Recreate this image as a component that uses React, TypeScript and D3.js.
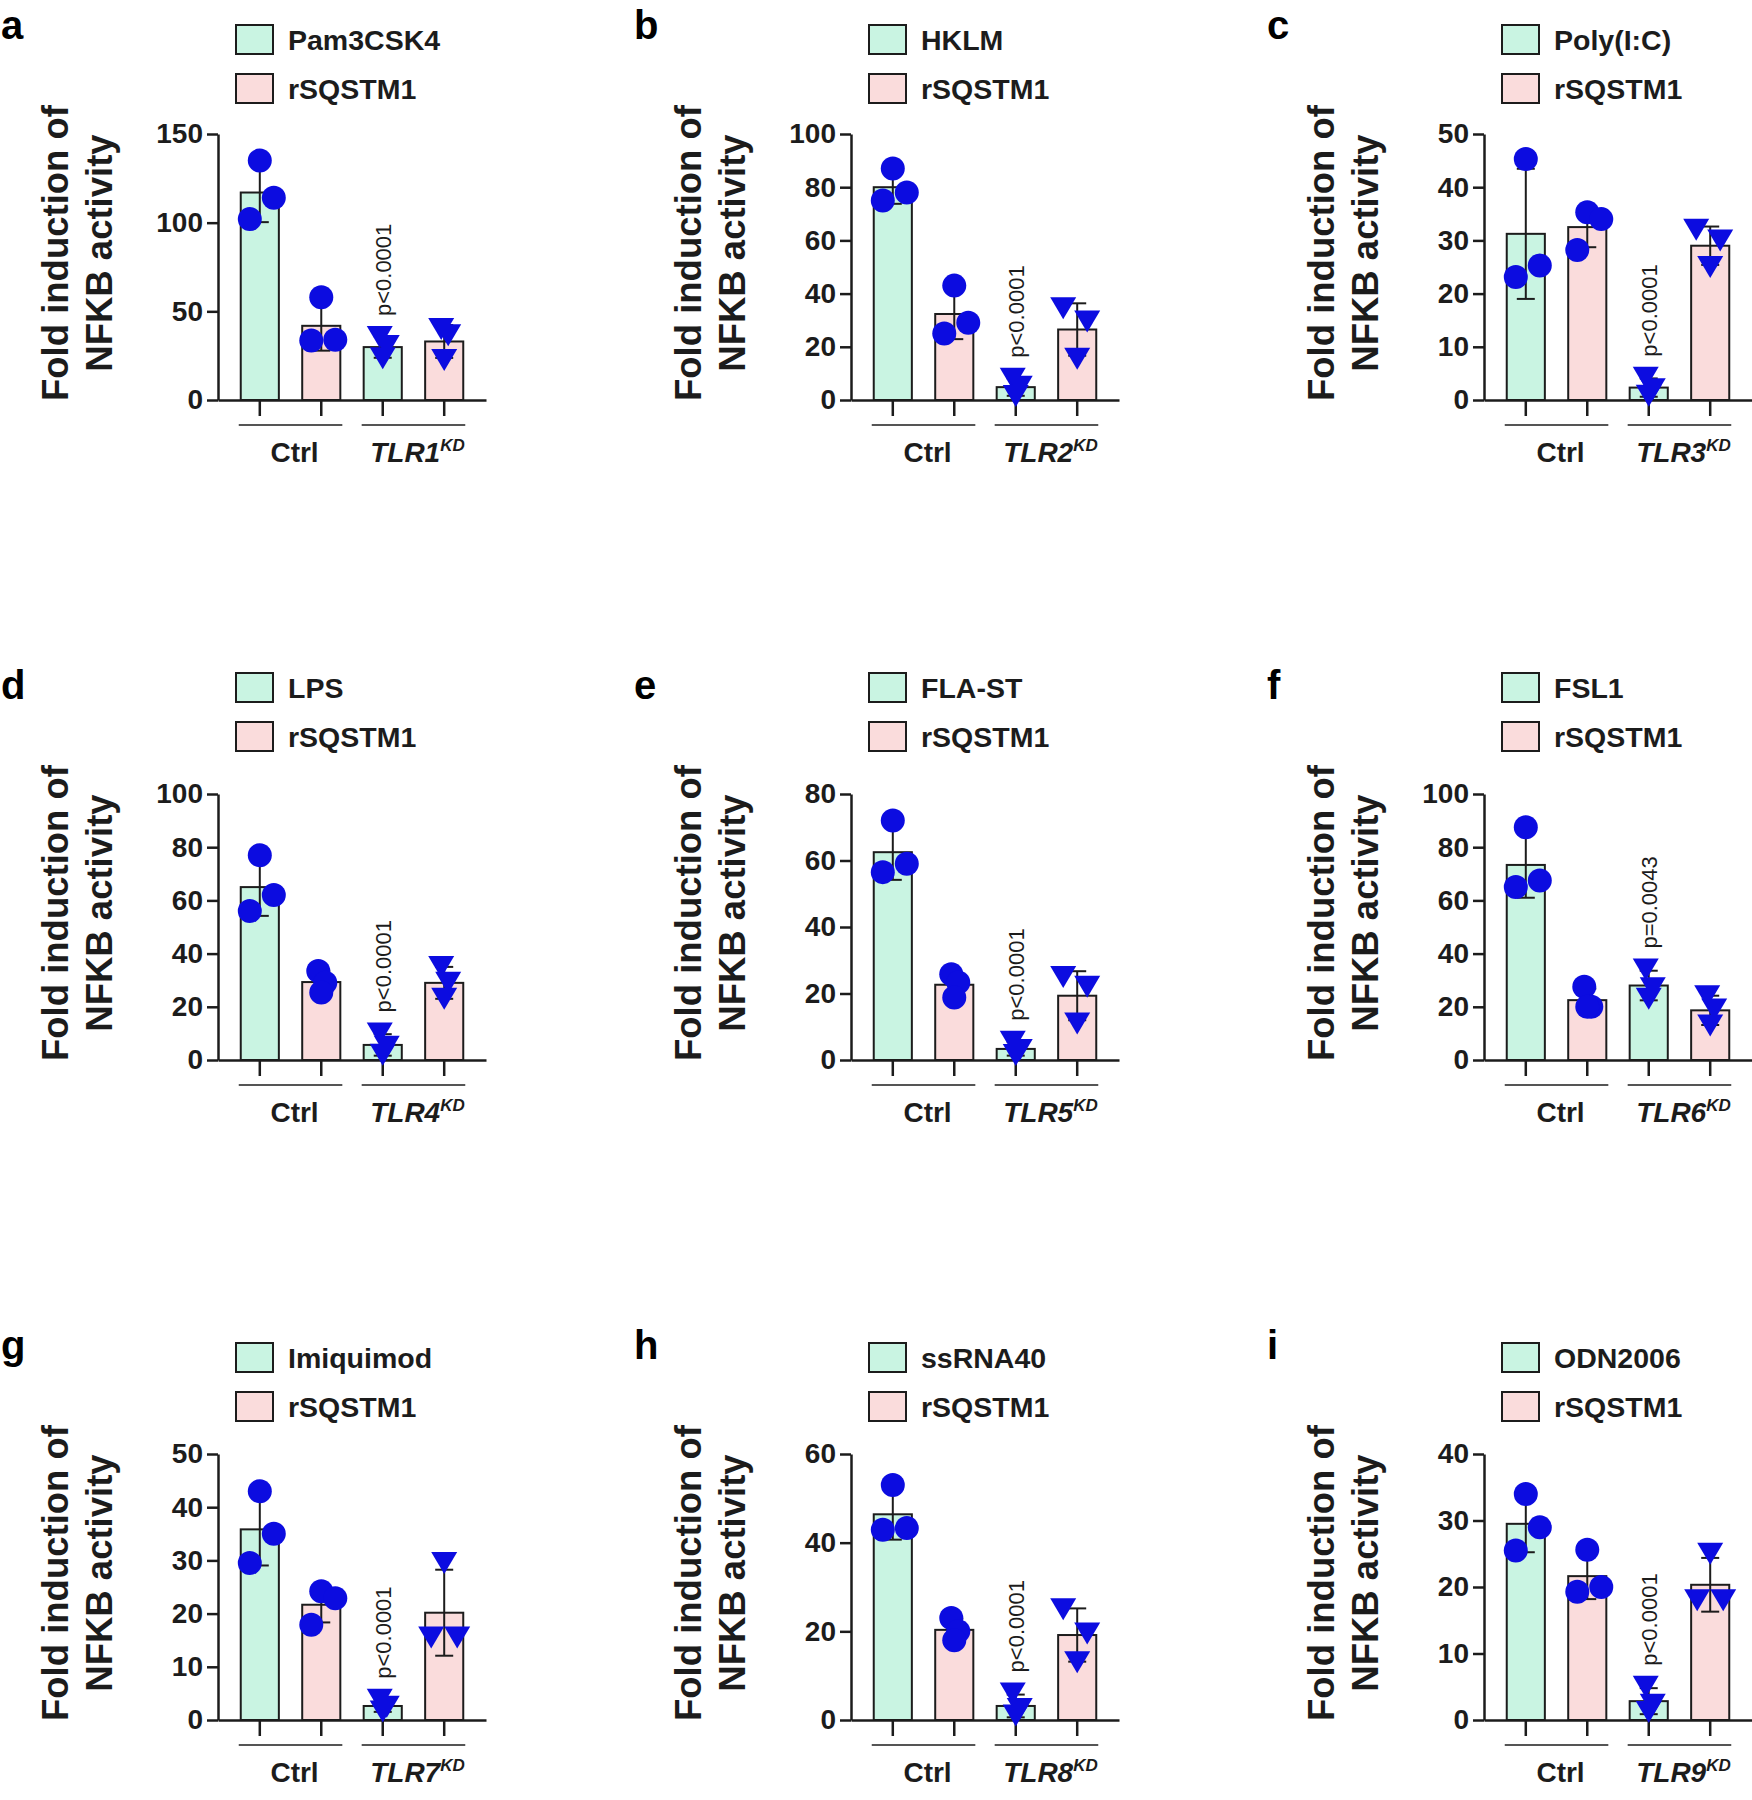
import React, { useEffect, useRef } from "react";
import * as d3 from "d3";

// panel letters, stimulus names and knockdown genes
const letters = ["a", "b", "c", "d", "e", "f", "g", "h", "i"];
const stimuli = ["Pam3CSK4", "HKLM", "Poly(I:C)", "LPS", "FLA-ST", "FSL1", "Imiquimod", "ssRNA40", "ODN2006"];
const knockdowns = ["TLR1", "TLR2", "TLR3", "TLR4", "TLR5", "TLR6", "TLR7", "TLR8", "TLR9"];
const yMax = [150, 100, 50, 100, 80, 100, 50, 60, 40];
const yStep = [50, 20, 10, 20, 20, 20, 10, 20, 10];
const pLabels = ["p<0.0001", "p<0.0001", "p<0.0001", "p<0.0001", "p<0.0001", "p=0.0043", "p<0.0001", "p<0.0001", "p<0.0001"];

// replicates per bar (3 each)
const ctrlStim = [
  [135, 114, 102], [87, 78, 75], [45.3, 25.3, 23.1],
  [77, 62, 56], [72, 59, 56.5], [87.5, 67.5, 65],
  [43, 35, 29.5], [53, 43.3, 42.9], [34, 29, 25.5],
];
const ctrlSqstm = [
  [58, 34, 33.5], [43, 29, 25], [35.3, 34, 28.2],
  [33.5, 29, 25.4], [25.8, 23.3, 18.8], [27.5, 20, 20],
  [24.2, 22.9, 17.9], [23, 20, 18], [25.6, 20, 19.3],
];
const kdStim = [
  [35.5, 30.5, 23.5], [8, 5, 1.5], [4.2, 2, 0.8],
  [10, 5, 2], [5.5, 3, 1.5], [34, 27, 23],
  [3.8, 2.5, 1.6], [6, 2.5, 1], [5, 2.3, 1.2],
];
const kdSqstm = [
  [40, 36.5, 22.5], [34.5, 29.5, 15.5], [32, 30, 25],
  [35, 29, 23], [25, 22, 11], [24, 19, 13],
  [29.5, 15.5, 15.5], [25, 19.5, 13], [25, 18, 18],
];

const W = 1752;
const H = 1800;
const colX = [218, 851, 1484];
const rowY = [0, 660, 1320];
const legendTop = [25, 13, 23];
const plotTop = 134;
const plotBottom = 400;
const font = "'Liberation Sans', Arial, Helvetica, sans-serif";
const mint = "#c9f4e2";
const pink = "#fadcdc";
const blue = "#0c0ce0";
const ink = "#1c1c1c";
const triangle = "M-13,-11L13,-11L0,11Z";

// horizontal scatter of the 3 replicates (sorted high to low), like the prism layout
const spread = (px: number[], tri: boolean) => {
  const range = px[2] - px[0];
  if (range < (tri ? 33 : 28)) return [-3, 4, 0];
  if (!tri) return [0, 14, -10];
  const g1 = px[1] - px[0];
  const g2 = px[2] - px[1];
  return g1 < g2 ? [-14, 10, 0] : [0, -13, 13];
};

const App = () => {
  const ref = useRef<SVGSVGElement>(null);

  useEffect(() => {
    document.body.style.margin = "0";
    const svg = d3.select(ref.current);
    svg.selectAll("*").remove();
    svg.append("rect").attr("width", W).attr("height", H).attr("fill", "#fff");

    letters.forEach((letter, i) => {
      const col = i % 3;
      const row = Math.floor(i / 3);
      const g = svg.append("g").attr("transform", `translate(${colX[col]},${rowY[row]})`);

      const y = d3.scaleLinear().domain([0, yMax[i]]).range([plotBottom, plotTop]);
      const x = d3.scaleBand<number>().domain([0, 1, 2, 3]).range([0, 268]).paddingInner(0.38).paddingOuter(0.37);
      const bw = x.bandwidth();
      const groups = [ctrlStim[i], ctrlSqstm[i], kdStim[i], kdSqstm[i]];

      // panel letter
      g.append("text")
        .attr("x", -217)
        .attr("y", 39)
        .attr("font-family", font)
        .attr("font-weight", "bold")
        .attr("font-size", 40)
        .text(letter);

      // legend
      const lt = legendTop[row];
      [stimuli[i], "rSQSTM1"].forEach((name, k) => {
        g.append("rect")
          .attr("x", 18)
          .attr("y", lt + k * 49)
          .attr("width", 37)
          .attr("height", 29)
          .attr("fill", k === 0 ? mint : pink)
          .attr("stroke", ink)
          .attr("stroke-width", 2);
        g.append("text")
          .attr("x", 70)
          .attr("y", lt + k * 49 + 14.5)
          .attr("dy", "0.36em")
          .attr("font-family", font)
          .attr("font-weight", "bold")
          .attr("font-size", 28.5)
          .attr("fill", ink)
          .text(name);
      });

      // y title
      ["Fold induction of", "NFKB activity"].forEach((t, k) => {
        g.append("text")
          .attr("transform", `translate(${-163 + k * 44},253) rotate(-90)`)
          .attr("text-anchor", "middle")
          .attr("dy", "0.36em")
          .attr("font-family", font)
          .attr("font-weight", "bold")
          .attr("font-size", 36.5)
          .attr("fill", ink)
          .text(t);
      });

      // bars
      groups.forEach((vals, j) => {
        const mean = d3.mean(vals) as number;
        g.append("rect")
          .attr("x", x(j) as number)
          .attr("y", y(mean))
          .attr("width", bw)
          .attr("height", plotBottom - y(mean))
          .attr("fill", j % 2 === 0 ? mint : pink)
          .attr("stroke", ink)
          .attr("stroke-width", 2);
      });

      // axes
      const yAxis = g
        .append("g")
        .call(
          d3
            .axisLeft(y)
            .tickValues(d3.range(0, yMax[i] + 0.1, yStep[i]))
            .tickSize(11)
            .tickSizeOuter(0)
            .tickPadding(4)
        );
      yAxis.selectAll("path,line").attr("stroke", ink).attr("stroke-width", 2.5);
      yAxis
        .selectAll("text")
        .attr("font-family", font)
        .attr("font-weight", "bold")
        .attr("font-size", 28)
        .attr("fill", ink);

      const xAxis = g
        .append("g")
        .attr("transform", `translate(0,${plotBottom})`)
        .call(
          d3
            .axisBottom(x)
            .tickSize(16)
            .tickSizeOuter(0)
            .tickFormat(() => "")
        );
      xAxis.selectAll("path,line").attr("stroke", ink).attr("stroke-width", 2.5);

      // error bars (mean ± SD) and replicate points
      groups.forEach((vals, j) => {
        const mean = d3.mean(vals) as number;
        const sd = d3.deviation(vals) as number;
        const cx = (x(j) as number) + bw / 2;
        const eb = g.append("g").attr("stroke", ink).attr("stroke-width", 2);
        eb.append("line").attr("x1", cx).attr("x2", cx).attr("y1", y(mean - sd)).attr("y2", y(mean + sd));
        [mean - sd, mean + sd].forEach((v) => {
          eb.append("line").attr("x1", cx - 9).attr("x2", cx + 9).attr("y1", y(v)).attr("y2", y(v));
        });

        const tri = j >= 2;
        const sorted = [...vals].sort((p, q) => q - p);
        const offsets = spread(sorted.map((v) => y(v)), tri);
        sorted.forEach((v, k) => {
          const px = cx + offsets[k];
          if (!tri) {
            g.append("circle").attr("cx", px).attr("cy", y(v)).attr("r", 12).attr("fill", blue);
          } else {
            g.append("path").attr("d", triangle).attr("transform", `translate(${px},${y(v)})`).attr("fill", blue);
          }
        });
      });

      // p value above the knockdown stimulus bar
      const cx2 = (x(2) as number) + bw / 2;
      const top2 = d3.max(groups[2]) as number;
      g.append("text")
        .attr("transform", `translate(${cx2},${y(top2) - 21}) rotate(-90)`)
        .attr("dy", "0.36em")
        .attr("font-family", font)
        .attr("font-size", 22)
        .attr("fill", ink)
        .text(pLabels[i]);

      // group lines and labels
      [0, 2].forEach((j, k) => {
        const x0 = (x(j) as number) - 2;
        const x1 = (x(j + 1) as number) + bw + 2;
        g.append("line")
          .attr("x1", x0)
          .attr("x2", x1)
          .attr("y1", plotBottom + 25)
          .attr("y2", plotBottom + 25)
          .attr("stroke", "#555")
          .attr("stroke-width", 2);
        const label = g
          .append("text")
          .attr("x", (x0 + x1) / 2 + 4)
          .attr("y", plotBottom + 62)
          .attr("text-anchor", "middle")
          .attr("font-family", font)
          .attr("font-weight", "bold")
          .attr("font-size", 28)
          .attr("fill", ink);
        if (k === 0) {
          label.text("Ctrl");
        } else {
          label.append("tspan").attr("font-style", "italic").text(knockdowns[i]);
          label.append("tspan").attr("font-style", "italic").attr("font-size", 17).attr("dy", -11).text("KD");
        }
      });
    });
  }, []);

  return <svg ref={ref} width={W} height={H} style={{ display: "block" }} />;
};

export default App;
